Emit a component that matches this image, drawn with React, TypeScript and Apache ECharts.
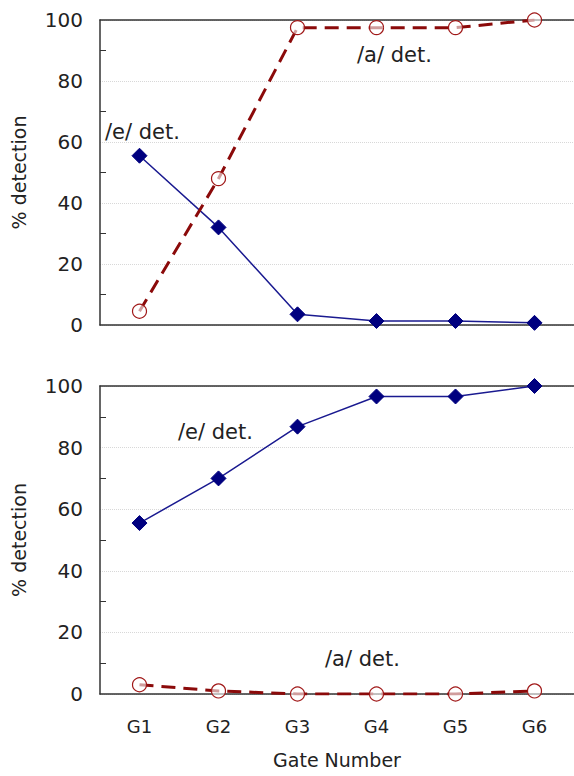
import React, { useEffect, useRef } from "react";
import * as echarts from "echarts";

const gates = ["G1", "G2", "G3", "G4", "G5", "G6"];
const topE = [55.5, 32, 3.5, 1.3, 1.3, 0.7];
const topA = [4.5, 48, 97.5, 97.5, 97.5, 100];
const botE = [55.5, 70, 86.8, 96.6, 96.6, 100];
const botA = [3, 1, 0, 0, 0, 1];
const yTicks = [0, 20, 40, 60, 80, 100];

const FONT = "DejaVu Sans";
const BLUE = "#00007f";
const RED = "#8b0a0a";

export default function App() {
  const ref = useRef<HTMLDivElement>(null);
  useEffect(() => {
    const chart = echarts.init(ref.current!, null, { renderer: "svg" });
    const axisLine = { show: true, lineStyle: { color: "#333", width: 1.5 } };
    const mkY = (gridIndex: number) => ({
      type: "value",
      gridIndex,
      min: yTicks[0],
      max: yTicks[yTicks.length - 1],
      interval: 20,
      name: "% detection",
      nameLocation: "middle",
      nameGap: 72,
      nameRotate: 90,
      nameTextStyle: { fontFamily: FONT, fontSize: 19, color: "#222" },
      axisLine,
      axisTick: { show: false, inside: true },
      minorTick: { show: true, splitNumber: 2, length: 6, lineStyle: { color: "#333", width: 1 } },
      axisLabel: { fontFamily: FONT, fontSize: 20, color: "#222", margin: 17 },
      splitLine: { show: true, lineStyle: { color: "#d8d8d8", type: "dotted", width: 1 } },
    });
    const mkX = (gridIndex: number, position: string, labels: boolean) => ({
      type: "category",
      gridIndex,
      position,
      data: gates,
      boundaryGap: true,
      axisLine,
      axisTick: { show: false },
      axisLabel: labels
        ? { show: true, fontFamily: FONT, fontSize: 18, color: "#222", margin: 23 }
        : { show: false },
      name: labels && position === "bottom" ? "Gate Number" : "",
      nameLocation: "middle",
      nameGap: 56,
      nameTextStyle: { fontFamily: FONT, fontSize: 19, color: "#222" },
      splitLine: { show: false },
    });
    const eSeries = (xi: number, yi: number, data: number[]) => ({
      type: "line",
      xAxisIndex: xi,
      yAxisIndex: yi,
      data,
      symbol: "diamond",
      symbolSize: 15,
      lineStyle: { color: "#1a1a90", width: 1.5 },
      itemStyle: { color: BLUE, borderColor: BLUE },
      z: 3,
    });
    const aSeries = (xi: number, yi: number, data: number[]) => ({
      type: "line",
      xAxisIndex: xi,
      yAxisIndex: yi,
      data,
      symbol: "circle",
      symbolSize: 14,
      lineStyle: { color: RED, width: 3, type: [14, 8] },
      itemStyle: { color: "rgba(255,255,255,0.6)", borderColor: "#a01818", borderWidth: 1.2 },
      z: 4,
    });
    const txt = (left: number, top: number, text: string) => ({
      type: "text",
      left,
      top,
      style: { text, fontFamily: FONT, fontSize: 21, fill: "#222" },
    });
    chart.setOption({
      animation: false,
      backgroundColor: "#fff",
      grid: [
        { left: 100, right: 0, top: 20, height: 305 },
        { left: 100, right: 0, top: 386, height: 308 },
      ],
      xAxis: [mkX(0, "bottom", false), mkX(0, "top", false), mkX(1, "bottom", true), mkX(1, "top", false)],
      yAxis: [mkY(0), mkY(1)],
      series: [eSeries(0, 0, topE), aSeries(0, 0, topA), eSeries(2, 1, botE), aSeries(2, 1, botA)],
      graphic: [
        txt(105, 121, "/e/ det."),
        txt(357, 44, "/a/ det."),
        txt(178, 421, "/e/ det."),
        txt(325, 648, "/a/ det."),
      ],
    });
    return () => chart.dispose();
  }, []);
  return (
    <div
      ref={ref}
      style={{ position: "absolute", left: 0, top: 0, width: 574, height: 776 }}
    />
  );
}
